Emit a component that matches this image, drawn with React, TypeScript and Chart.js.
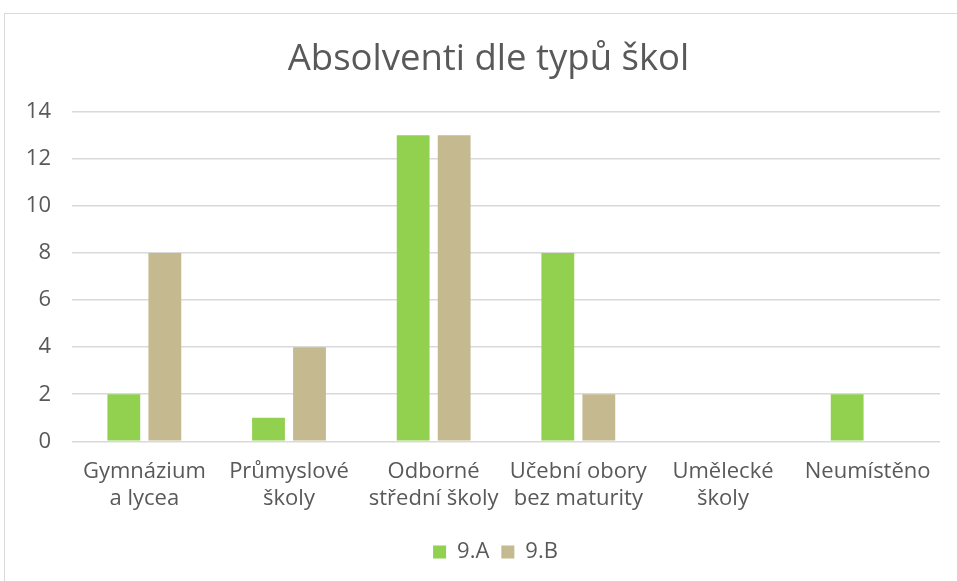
import React, { useEffect, useRef } from "react";
import { Chart, registerables } from "chart.js";

Chart.register(...registerables);

const title = "Absolventi dle typů škol";
const categories: string[][] = [
  ["Gymnázium", "a lycea"],
  ["Průmyslové", "školy"],
  ["Odborné", "střední školy"],
  ["Učební obory", "bez maturity"],
  ["Umělecké", "školy"],
  ["Neumístěno"],
];
const seriesA = [2, 1, 13, 8, 0, 2];
const seriesB = [8, 4, 13, 2, 0, 0];
const seriesNames = ["9.A", "9.B"];
const yTicks = [0, 2, 4, 6, 8, 10, 12, 14];

const FONT = "'Open Sans', 'DejaVu Sans', sans-serif";
const TEXT = "#595959";

const shiftBoxes = {
  id: "shiftBoxes",
  afterLayout(chart: any) {
    if (chart.legend) {
      chart.legend.left += 13;
      chart.legend.right += 13;
    }
    if (chart.titleBlock) {
      chart.titleBlock.left += 6;
      chart.titleBlock.right += 6;
    }
  },
};

export default function App() {
  const ref = useRef<HTMLCanvasElement>(null);
  useEffect(() => {
    if (!ref.current) return;
    const chart = new Chart(ref.current, {
      type: "bar",
      data: {
        labels: categories,
        datasets: [
          { label: seriesNames[0], data: seriesA, backgroundColor: "#92D050", barPercentage: 0.8, categoryPercentage: 0.567 },
          { label: seriesNames[1], data: seriesB, backgroundColor: "#C4B98F", barPercentage: 0.8, categoryPercentage: 0.567 },
        ],
      },
      plugins: [shiftBoxes],
      options: {
        animation: false,
        responsive: false,
        layout: { padding: { left: 20, right: 17, top: 10, bottom: 8 } },
        plugins: {
          title: {
            display: true,
            text: title,
            color: TEXT,
            font: { family: FONT, size: 36.5, weight: "normal" },
            padding: { top: 14, bottom: 30 },
          },
          legend: {
            position: "bottom",
            labels: {
              color: TEXT,
              font: { family: FONT, size: 22 },
              boxWidth: 13,
              boxHeight: 13,
              padding: 12,
            },
          },
          tooltip: { enabled: false },
        },
        scales: {
          x: {
            grid: { display: false },
            border: { display: false },
            ticks: { color: TEXT, font: { family: FONT, size: 22, lineHeight: 1.22 }, maxRotation: 0, autoSkip: false, padding: 9 },
            afterFit: (s: any) => {
              s.height += 8;
            },
          },
          y: {
            min: 0,
            max: 14,
            afterBuildTicks: (axis: any) => {
              axis.ticks = yTicks.map((v) => ({ value: v }));
            },
            afterFit: (s: any) => {
              s.width = 47;
            },
            grid: { color: "#d9d9d9", lineWidth: 1.5, drawTicks: false },
            border: { display: false },
            ticks: { color: TEXT, font: { family: FONT, size: 22 }, padding: 21 },
          },
        },
      },
    });
    return () => chart.destroy();
  }, []);
  return (
    <div style={{ position: "absolute", left: 4, top: 13, width: 953, height: 568, border: "1px solid #d9d9d9", borderRight: "none", borderBottom: "none", boxSizing: "border-box", background: "#fff" }}>
      <canvas ref={ref} width={952} height={567} style={{ display: "block" }} />
    </div>
  );
}
